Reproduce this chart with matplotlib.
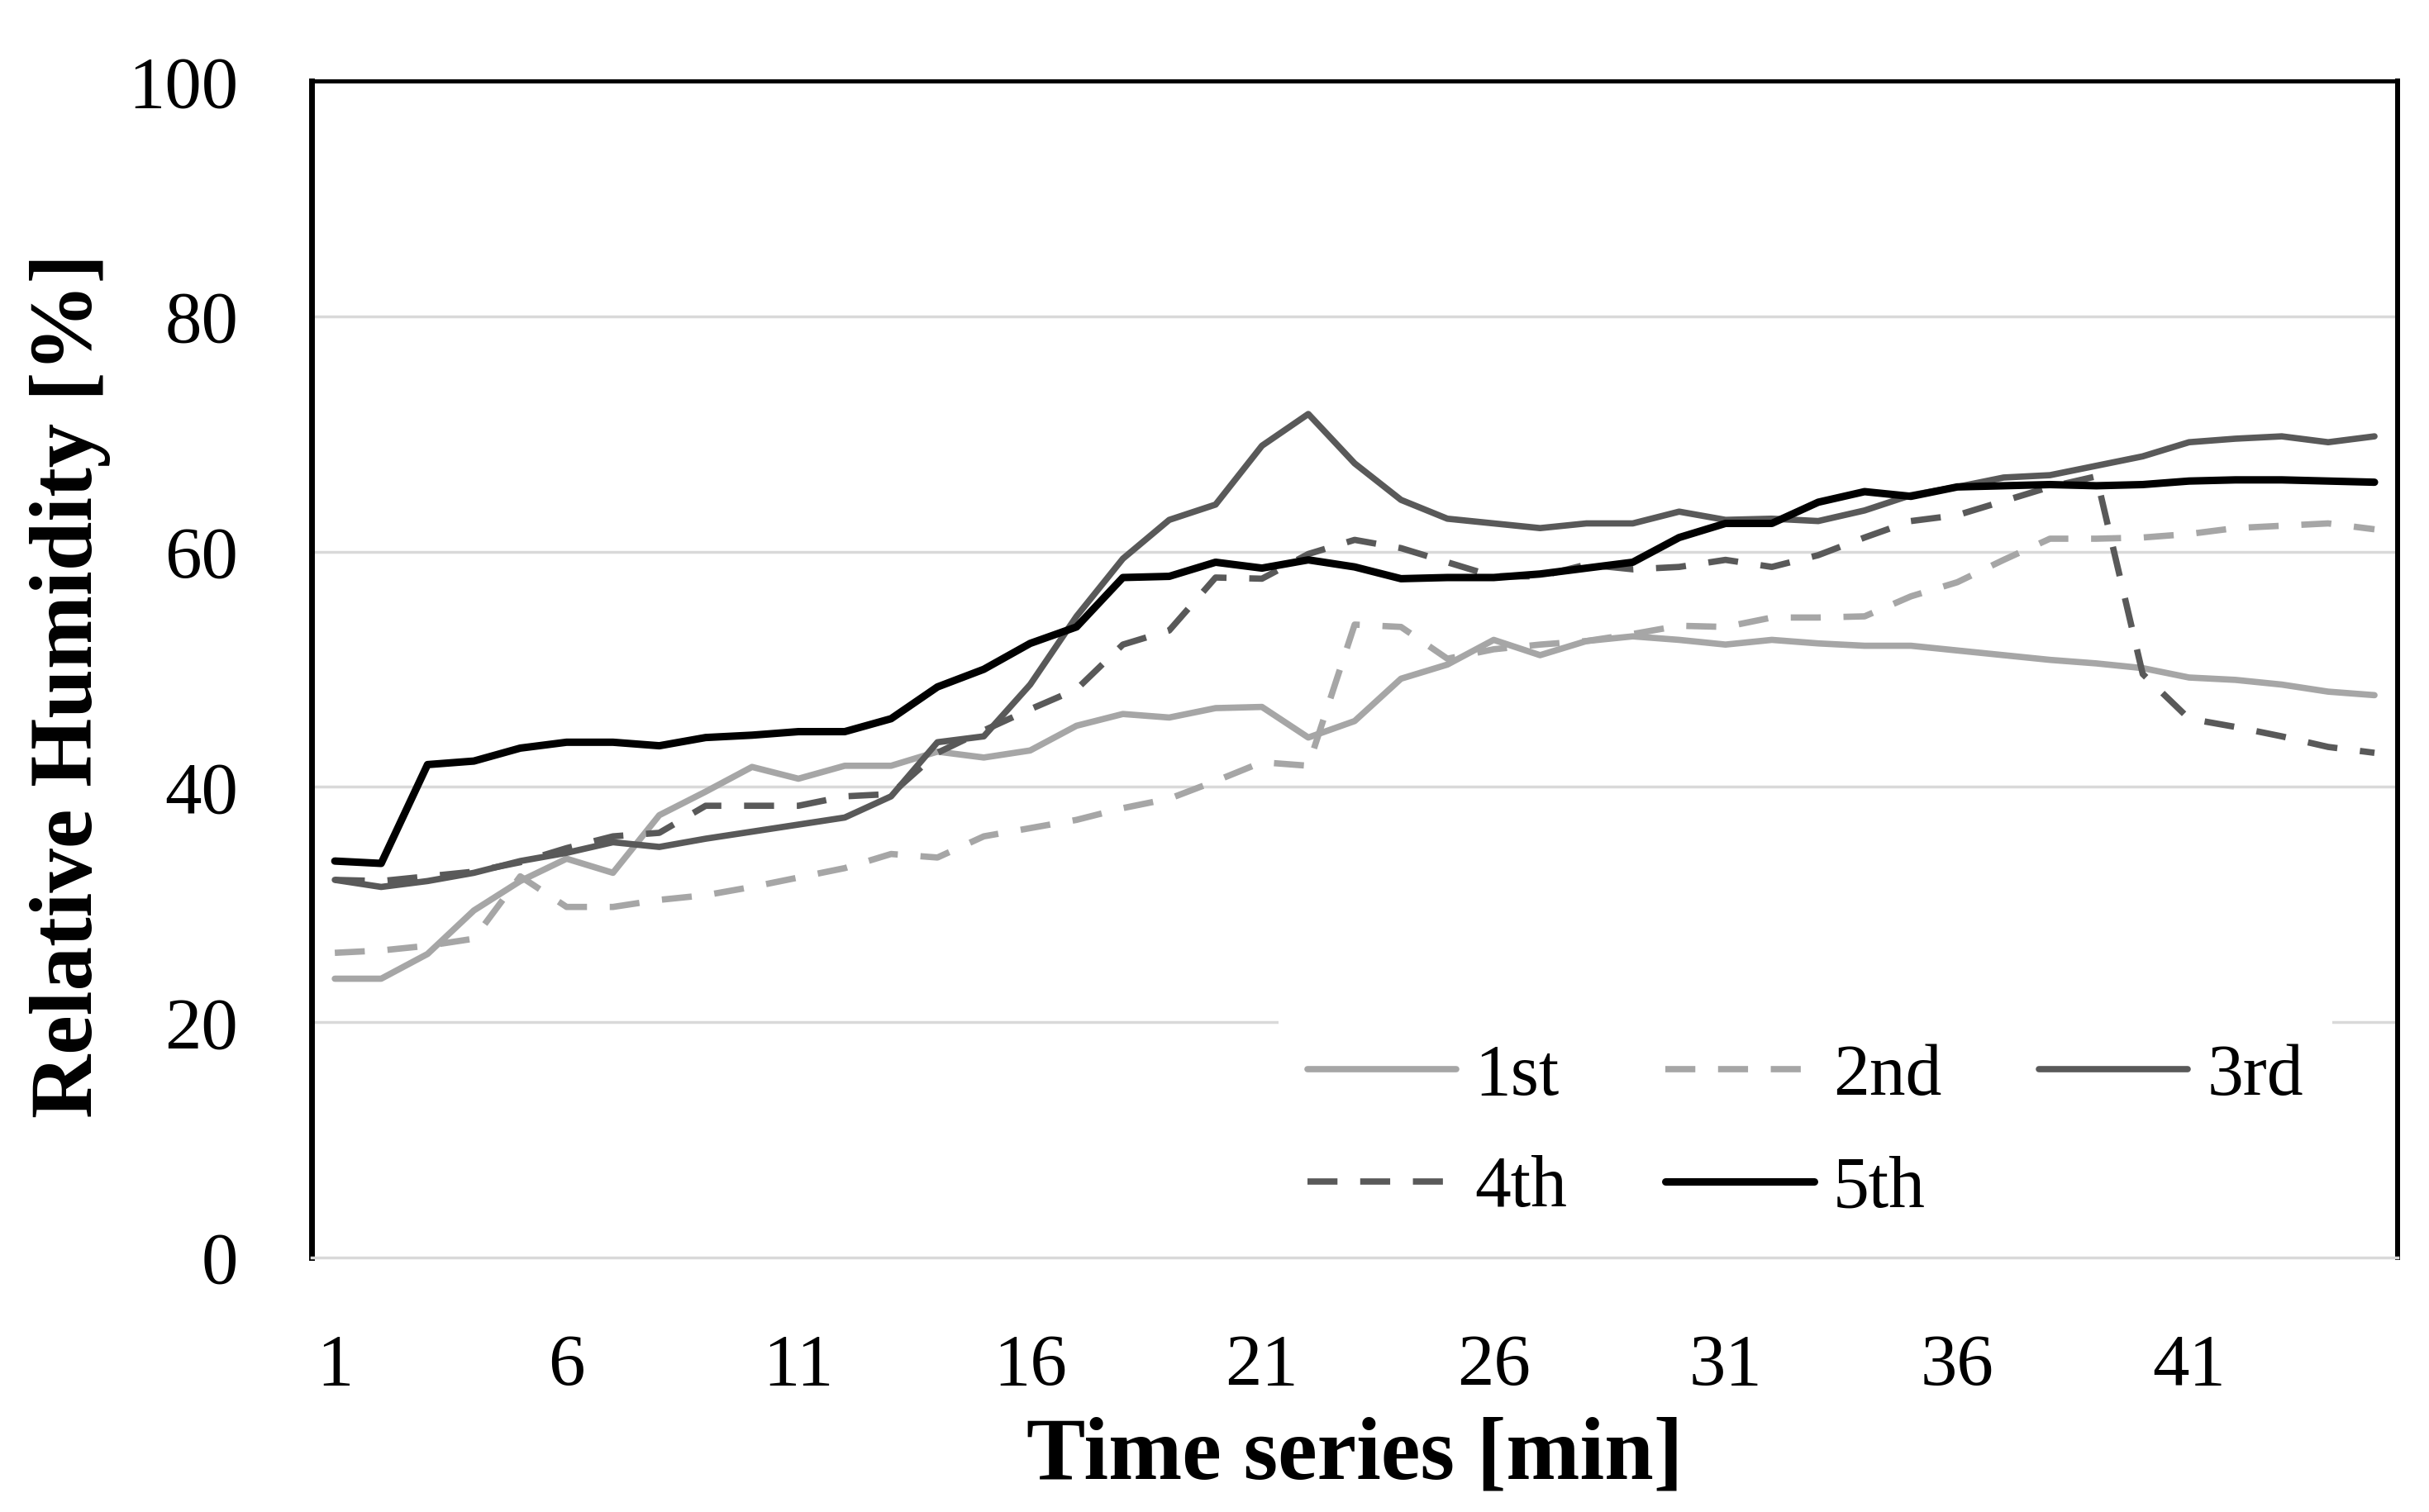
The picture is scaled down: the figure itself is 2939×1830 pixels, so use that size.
import matplotlib
matplotlib.use("Agg")
import matplotlib.pyplot as plt
import numpy as np

minutes = list(range(1, 46))
xtick_labels = ["1", "6", "11", "16", "21", "26", "31", "36", "41"]
series_names = ["1st", "2nd", "3rd", "4th", "5th"]

rh_1st = [23.7, 23.7, 25.8, 29.5, 32.0, 33.9, 32.7, 37.6, 39.6, 41.7,
          40.7, 41.8, 41.8, 43.0, 42.5, 43.1, 45.2, 46.2, 45.9, 46.7,
          46.8, 44.2, 45.6, 49.2, 50.4, 52.5, 51.2, 52.4, 52.8, 52.5,
          52.1, 52.5, 52.2, 52.0, 52.0, 51.6, 51.2, 50.8, 50.5, 50.1,
          49.3, 49.1, 48.7, 48.1, 47.8]
rh_2nd = [25.9, 26.1, 26.5, 27.1, 32.4, 29.8, 29.8, 30.4, 30.8, 31.5,
          32.3, 33.1, 34.3, 34.0, 35.8, 36.5, 37.2, 38.2, 39.0, 40.5,
          42.1, 41.8, 53.8, 53.6, 50.9, 51.7, 52.1, 52.4, 53.0, 53.7,
          53.6, 54.4, 54.4, 54.5, 56.2, 57.4, 59.3, 61.1, 61.1, 61.2,
          61.5, 62.0, 62.2, 62.4, 61.9]
rh_3rd = [32.1, 31.5, 32.0, 32.7, 33.7, 34.4, 35.3, 34.9, 35.6, 36.2,
          36.8, 37.4, 39.2, 43.8, 44.3, 48.7, 54.5, 59.4, 62.7, 64.0,
          69.0, 71.7, 67.5, 64.4, 62.8, 62.4, 62.0, 62.4, 62.4, 63.4,
          62.7, 62.8, 62.6, 63.5, 64.8, 65.5, 66.3, 66.5, 67.3, 68.1,
          69.3, 69.6, 69.8, 69.3, 69.8]
rh_4th = [32.1, 32.0, 32.4, 32.8, 33.6, 34.8, 35.8, 36.1, 38.4, 38.4,
          38.4, 39.2, 39.4, 42.9, 44.8, 46.6, 48.3, 52.1, 53.3, 57.8,
          57.7, 59.8, 61.0, 60.3, 59.1, 57.9, 57.9, 58.9, 58.5, 58.7,
          59.3, 58.7, 59.7, 61.2, 62.6, 63.1, 64.3, 65.5, 66.4, 49.6,
          45.8, 45.1, 44.3, 43.4, 42.9]
rh_5th = [33.7, 33.5, 41.9, 42.2, 43.3, 43.8, 43.8, 43.5, 44.2, 44.4,
          44.7, 44.7, 45.8, 48.5, 50.0, 52.2, 53.6, 57.8, 57.9, 59.1,
          58.6, 59.3, 58.7, 57.7, 57.8, 57.8, 58.1, 58.6, 59.1, 61.2,
          62.4, 62.4, 64.2, 65.1, 64.7, 65.5, 65.6, 65.7, 65.6, 65.7,
          66.0, 66.1, 66.1, 66.0, 65.9]

series = [rh_1st, rh_2nd, rh_3rd, rh_4th, rh_5th]
colors = ["#A6A6A6", "#A6A6A6", "#595959", "#595959", "#000000"]
styles = ["solid", "dashed", "solid", "dashed", "solid"]
widths = [5.5, 5.5, 5.5, 5.5, 6.5]

plt.rcParams['font.family'] = ['Liberation Serif', 'DejaVu Serif']

fig = plt.figure(figsize=(29.39, 18.30), dpi=100)
ax = fig.add_axes([0.1283, 0.1683, 0.9871 - 0.1283, 0.9464 - 0.1683])

for yv in [20, 40, 60, 80]:
    ax.axhline(yv, color="#D9D9D9", lw=2.5, zorder=0.5)
ax.axhline(0, color="#D9D9D9", lw=2.5, zorder=10, clip_on=False)

handles = []
for name, vals, c, ls, lw in zip(series_names, series, colors, styles, widths):
    line, = ax.plot(minutes, vals, color=c, lw=lw, label=name, zorder=2,
                    solid_joinstyle='round', solid_capstyle='round',
                    dash_joinstyle='round', dash_capstyle='butt')
    if ls == "dashed":
        line.set_dashes([4.75, 3.6])
    handles.append(line)

ax.set_xlim(0.5, 45.5)
ax.set_ylim(0, 100)
ax.set_yticks([0, 20, 40, 60, 80, 100])
ax.set_xticks([int(t) for t in xtick_labels])
ax.set_xticklabels(xtick_labels)
ax.tick_params(axis='both', length=0, labelsize=64)
ax.tick_params(axis='y', pad=64)
ax.tick_params(axis='x', pad=66)

ax.spines['left'].set_linewidth(5.0)
ax.spines['top'].set_linewidth(3.6)
ax.spines['right'].set_linewidth(4.3)
for s in ['left', 'top', 'right']:
    ax.spines[s].set_color('black')
ax.spines['bottom'].set_visible(False)

fig.text(0.0289, 0.5464, "Relative Humidity [%]", rotation=90, ha='center',
         va='center', fontsize=77, fontweight='bold')
fig.text(0.5577, 0.0219, "Time series [min]", ha='center', va='baseline',
         fontsize=77, fontweight='bold')

# row-wise order: 1st 2nd 3rd / 4th 5th
order = [0, 3, 1, 4, 2]
leg = ax.legend([handles[i] for i in order], [series_names[i] for i in order],
                ncol=3, loc='center', bbox_to_anchor=(0.716, 0.106),
                fontsize=63, frameon=True, facecolor='white', edgecolor='none',
                framealpha=1.0, fancybox=False, handlelength=2.06,
                handletextpad=0.26, columnspacing=1.35, labelspacing=0.62,
                borderpad=0.4)
leg.set_zorder(5)

fig.savefig("out.png", dpi=100, facecolor='white')
